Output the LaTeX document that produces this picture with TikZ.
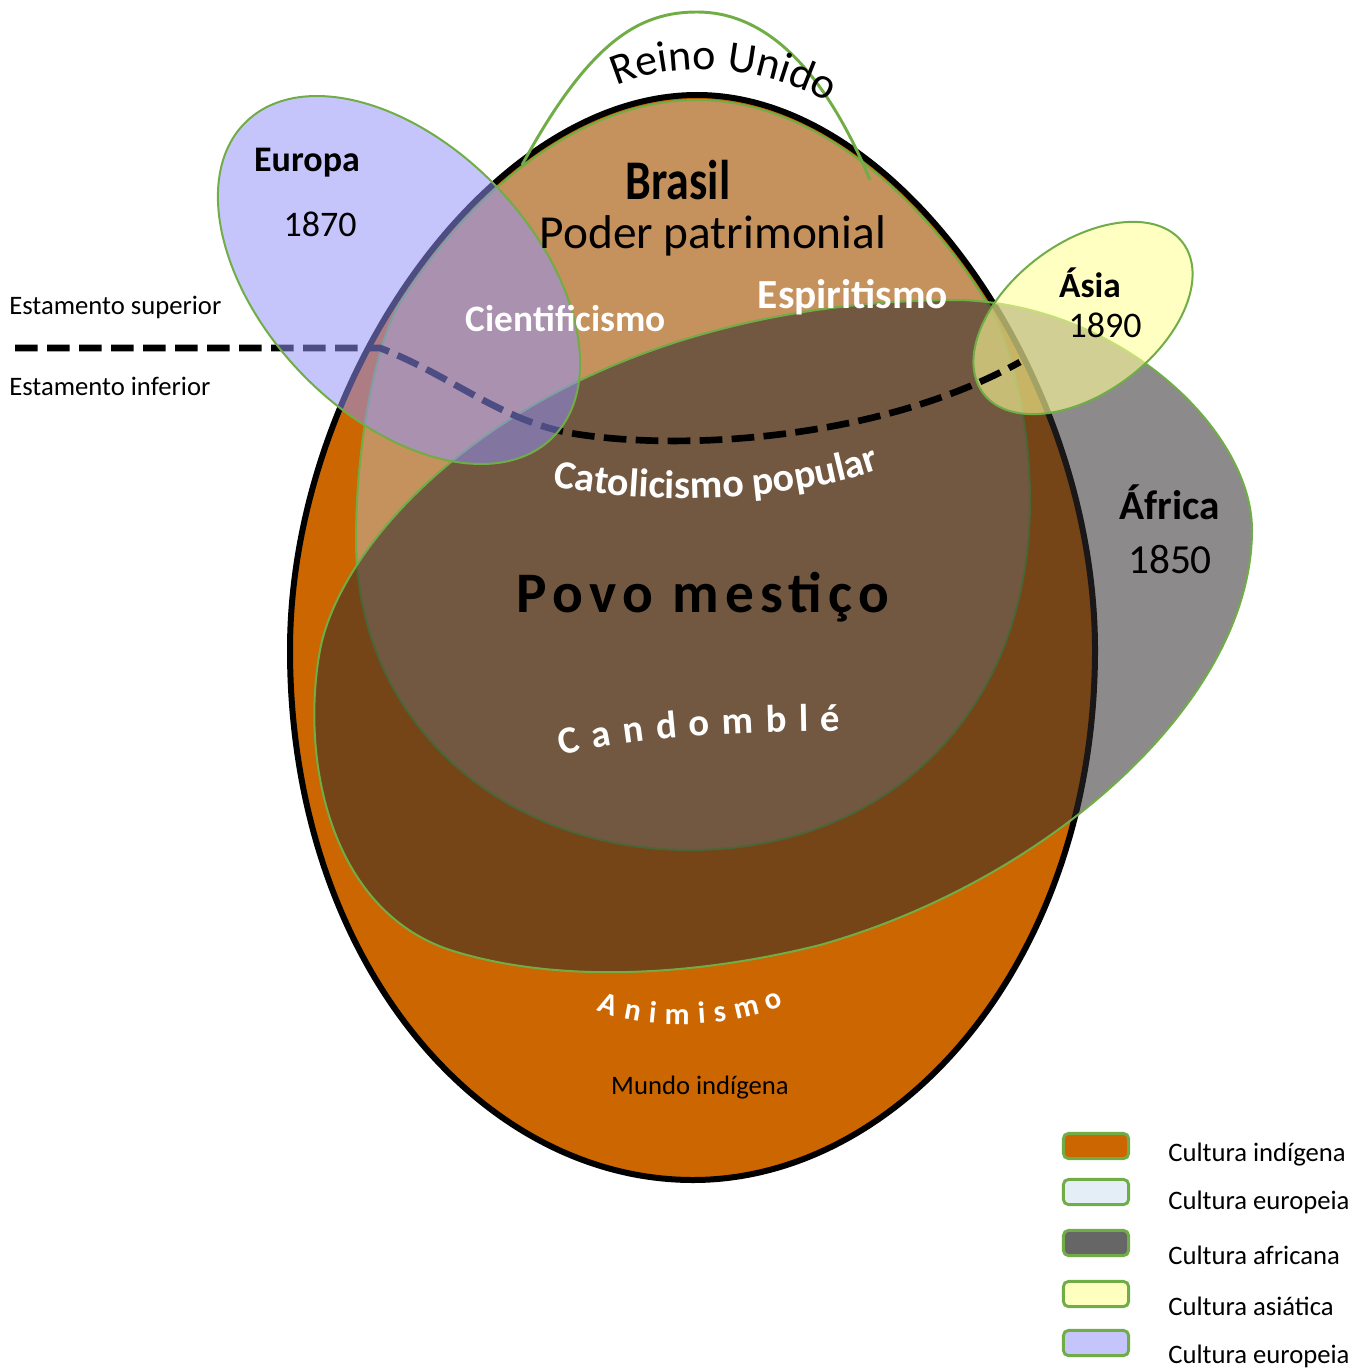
\documentclass[tikz,border=0pt]{standalone}
\usepackage{fontspec}
\setmainfont{Carlito}
\usetikzlibrary{decorations.text}

\definecolor{indigena}{RGB}{204,102,0}
\definecolor{patrimonial}{RGB}{197,145,92}
\definecolor{africano}{RGB}{46,42,42}
\definecolor{europeu}{RGB}{146,146,249}
\definecolor{asiatico}{RGB}{255,255,153}
\definecolor{contorno}{RGB}{112,173,71}
\definecolor{legeuropaclara}{RGB}{227,238,247}
\definecolor{legafrica}{RGB}{102,102,102}
\definecolor{legasia}{RGB}{255,255,192}
\definecolor{legeuropa}{RGB}{197,197,252}

\newcommand{\fs}[1]{\fontsize{#1}{#1}\selectfont}

\begin{document}
\begin{tikzpicture}[x=0.75pt,y=0.75pt,yscale=-1,xscale=1,
  regiao/.style={draw=contorno,line width=1.5pt},
  rotulo/.style={inner sep=0.75pt,align=center},
  legcaixa/.style={draw=contorno,line width=2.2pt,rounded corners=4pt,minimum width=49pt,minimum height=19pt,inner sep=0pt},
  legtexto/.style={anchor=west,inner sep=0.75pt,font=\fs{20}}]
\useasboundingbox (0,0) rectangle (1358,1369);

%Shape: Egg [mundo indigena]
\draw [fill=indigena, line width=4.5pt] (697,95) .. controls (900,95) and (1095,380) .. (1095,650) .. controls (1095,960) and (900,1180) .. (693,1180) .. controls (480,1180) and (290,960) .. (290,650) .. controls (290,380) and (490,95) .. (697,95) -- cycle ;
%Shape: Brasil
\draw [regiao, fill=patrimonial] (697,100) .. controls (806,100) and (913,184) .. (987,303) .. controls (1010,340) and (1030,420) .. (1030,500) .. controls (1030,720) and (880,850) .. (690,850) .. controls (500,850) and (356,720) .. (356,540) .. controls (356,440) and (377,340) .. (400,303) .. controls (476,184) and (586,100) .. (697,100) -- cycle ;
%Shape: Africa
\draw [regiao, fill=africano, fill opacity=0.55] (960,300) .. controls (1120,305) and (1252,430) .. (1252,530) .. controls (1252,700) and (1050,880) .. (820,945) .. controls (700,975) and (560,985) .. (450,950) .. controls (330,910) and (300,760) .. (320,650) .. controls (345,520) and (560,300) .. (960,300) -- cycle ;
%Shape: Ellipse [asia]
\draw [regiao, fill=asiatico, fill opacity=0.6, shift={(1083,318)}, rotate=-37] (0,0) ellipse [x radius=125, y radius=75] ;

%Dashed line [estamentos]
\coordinate (estE) at (15,348);
\coordinate (estD) at (1020,362);
\draw [line width=5pt, dash pattern=on 17pt off 7pt] (estE) -- (380,348) .. controls (450,375) and (500,420) .. (570,433) .. controls (680,452) and (880,440) .. (estD) ;

%Shape: Ellipse [europa]
\draw [regiao, fill=europeu, fill opacity=0.53, shift={(399,280)}, rotate=46] (0,0) ellipse [x radius=220, y radius=135] ;

%Curve Lines [reino unido]
\draw [draw=contorno, line width=2.2pt] (522,165) .. controls (590,40) and (640,12) .. (697,12) .. controls (760,12) and (820,60) .. (870,180) ;

% Curved texts
\path [decorate, decoration={text along path, text align=center, text={|\fs{33}|Reino Unido}}] (612,88) .. controls (670,60) and (760,62) .. (832,105) ;
\path [decorate, decoration={text along path, text align=center, text color=white, text={|\fs{30}\bfseries|Catolicismo popular}}] (548,485) .. controls (640,505) and (780,505) .. (885,468) ;
\path [decorate, decoration={text along path, text align=fit to path, text color=white, text={|\fs{29}\bfseries|Candomblé}}] (562,756) .. controls (630,738) and (720,732) .. (840,731) ;
\path [decorate, decoration={text along path, text align=fit to path, text color=white, text={|\fs{23}\bfseries|Animismo}}] (597,1010) .. controls (640,1030) and (730,1030) .. (784,1005) ;

% Text Node
\node [rotulo] (europa) at (307,163) {\fs{27}\bfseries Europa};
\node [rotulo] (ano1870) at (320,224) {\fs{27}1870};
\node [rotulo] (brasil) at (678,180) {\scalebox{0.82}[1]{\fs{42}\bfseries Brasil}};
\node [rotulo] (poder) at (713,236) {\fs{35.5}Poder patrimonial};
\node [rotulo, text=white] (espiritismo) at (853,297) {\fs{31}\bfseries Espiritismo};
\node [rotulo, text=white] (cientificismo) at (566,319) {\fs{28}\bfseries Cientificismo};
\node [rotulo] (asia) at (1090,283) {\fs{26.5}\bfseries Ásia};
\node [rotulo] (ano1890) at (1105,325) {\fs{27}1890};
\node [rotulo] (africa) at (1170,502) {\fs{31}\bfseries África};
\node [rotulo] (ano1850) at (1170,560) {\fs{31}1850};
\node [rotulo] (povo) at (703,597) {\fs{43}\bfseries\addfontfeatures{LetterSpace=11}Povo mestiço};
\node [rotulo] (mundo) at (700,1088) {\fs{20}Mundo indígena};
\node [rotulo, anchor=west] (superior) at (8,307) {\fs{20}Estamento superior};
\node [rotulo, anchor=west] (inferior) at (8,386) {\fs{20}Estamento inferior};

% Legend
\foreach \cor/\texto/\ya/\yb [count=\i] in {indigena/Cultura indígena/1146/1155, legeuropaclara/Cultura europeia/1192/1202, legafrica/Cultura africana/1243/1255, legasia/Cultura asiática/1294/1306, legeuropa/Cultura europeia/1343/1356}{
  \node [legcaixa, fill=\cor] (caixa\i) at (1096,\ya) {};
  \node [legtexto] (legenda\i) at (1167,\yb) {\texto};
}

\end{tikzpicture}
\end{document}
